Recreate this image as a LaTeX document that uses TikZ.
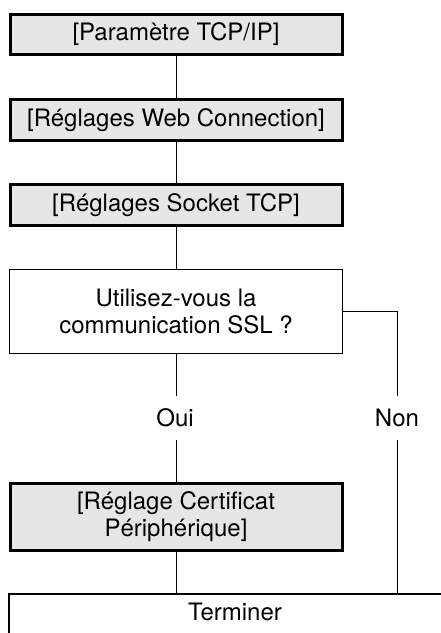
\documentclass[tikz,border=0pt]{standalone}
\usepackage{fontspec}
\setmainfont{TeX Gyre Heros}
\usepackage{tikz}

\definecolor{boxgray}{HTML}{E6E6E6}
\tikzset{
	setbox/.style={draw, line width=3pt, fill=boxgray, minimum width=332pt, inner sep=0pt, align=center},
	askbox/.style={draw, line width=1.2pt, fill=white, minimum width=333pt, inner sep=0pt, align=center},
	answer/.style={inner sep=0pt, minimum height=44pt},
	link/.style={line width=1pt}
}

\begin{document}
\begin{tikzpicture}[x=1pt, y=-1pt, font=\fontsize{24}{27}\selectfont]
	\useasboundingbox (0,0) rectangle (441,633);
	\node[setbox, minimum height=40pt] (tcpip) at (176,34.5) {[Paramètre TCP/IP]};
	\node[setbox, minimum height=41.5pt] (web) at (176,120) {[Réglages Web Connection]};
	\node[setbox, minimum height=41.5pt] (socket) at (176,205) {[Réglages Socket TCP]};
	\node[askbox, minimum height=84pt] (ssl) at (176,311.5) {Utilisez-vous la\\communication SSL ?};
	\node[answer] (oui) at (175,418) {Oui};
	\node[answer] (non) at (397,418) {Non};
	\node[setbox, minimum height=67pt] (cert) at (176,516.7) {[Réglage Certificat\\Périphérique]};
	\node[askbox, minimum width=452pt, text height=26pt, text depth=20pt] (fin) at (235,617) {Terminer};
	\draw[link] (tcpip) -- (web);
	\draw[link] (web) -- (socket);
	\draw[link] (socket) -- (ssl);
	\draw[link] (ssl.south) -- (ssl.south |- oui.north);
	\draw[link] (ssl.south |- oui.south) -- (cert);
	\draw[link] (cert) -- (cert.south |- fin.north);
	\draw[link] (ssl.east) -| (non.north);
	\draw[link] (non.south) -- (non.south |- fin.north);
\end{tikzpicture}
\end{document}
